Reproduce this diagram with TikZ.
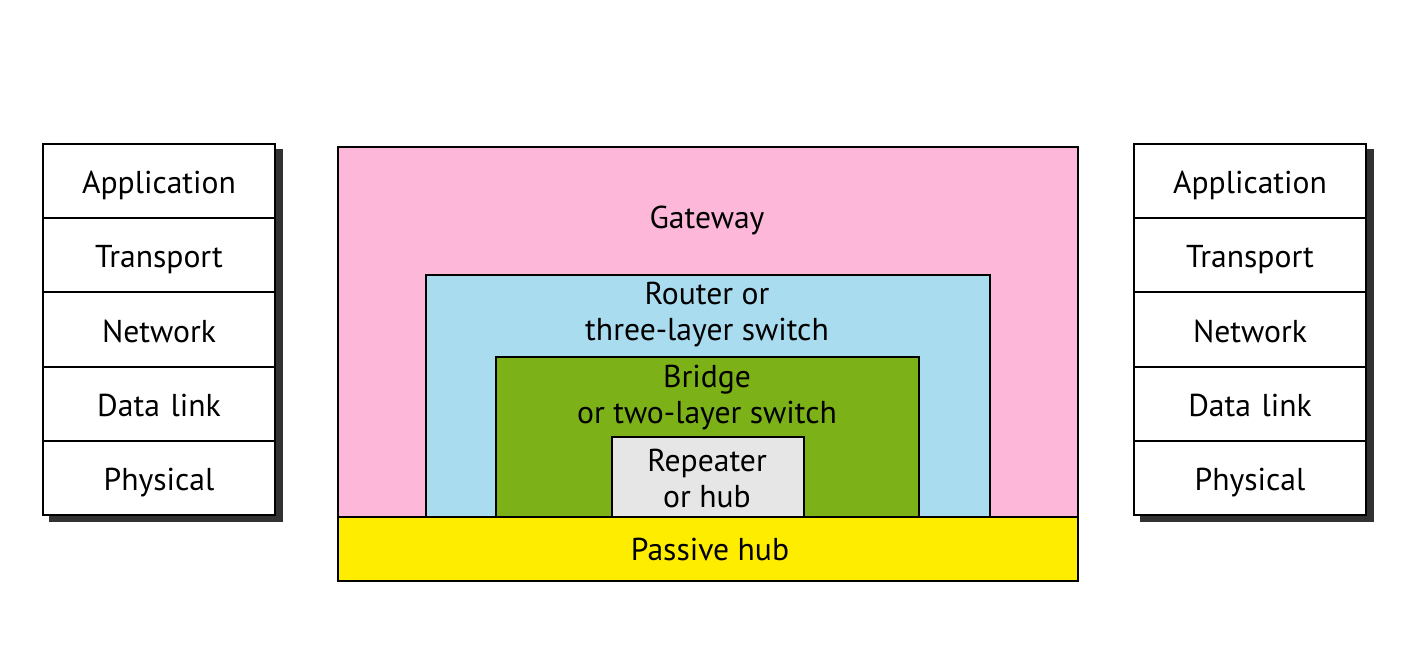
\documentclass[tikz,border=0pt]{standalone}
\usepackage{fontspec}
\setmainfont{PT Sans}
\usetikzlibrary{matrix}
\usetikzlibrary{shadows,positioning}
\definecolor{gatewaypink}{RGB}{253,184,217}
\definecolor{routerblue}{RGB}{170,220,240}
\definecolor{bridgegreen}{RGB}{124,178,24}
\definecolor{repeatergray}{RGB}{230,230,230}
\definecolor{hubyellow}{RGB}{255,237,0}
\definecolor{shadowgray}{RGB}{50,50,50}

\begin{document}
\begin{tikzpicture}

\tikzset{layer stack/.style={
    matrix of nodes,
    column sep=-\pgflinewidth, row sep=-\pgflinewidth,
    inner sep=0pt,
    drop shadow={shadow xshift=0.14cm, shadow yshift=-0.12cm,
      fill=shadowgray, opacity=1},
    nodes={draw, fill=white, line width=1.1pt,
      minimum height=1.484cm,
      anchor=center,
      text width=4.64cm,
      text height=0.62cm,
      text depth=0.12cm,
      align=center,
      inner sep=0pt
    },
  },
  device/.style={draw, line width=1.1pt},
  every node/.style={font=\fontsize{18}{21}\selectfont},
  line width=1.1pt
}

\useasboundingbox (0,0) rectangle (28.24,-13.02);

\matrix[layer stack] (left) at (3.18,-6.59)
{
Application \\
Transport \\
Network \\
Data link \\
Physical \\
};

\matrix[layer stack] (right) at (25.0,-6.59)
{
Application \\
Transport \\
Network \\
Data link \\
Physical \\
};

% nested devices
\draw[device, fill=gatewaypink] (6.76,-2.94) rectangle (21.56,-10.34);
\draw[device, fill=routerblue] (8.52,-5.50) rectangle (19.80,-10.34);
\draw[device, fill=bridgegreen] (9.92,-7.14) rectangle (18.38,-10.34);
\draw[device, fill=repeatergray] (12.24,-8.74) rectangle (16.08,-10.34);
\draw[device, fill=hubyellow] (6.76,-10.34) rectangle (21.56,-11.62);

\node (gateway) at (14.14,-4.40) {Gateway};
\node[align=center] (router) at (14.14,-6.29) {Router or\\three-layer switch};
\node[align=center] (bridge) at (14.14,-7.95) {Bridge\\or two-layer switch};
\node[align=center] (repeater) at (14.14,-9.57) {Repeater\\or hub};
\node (passive) at (14.20,-10.98) {Passive hub};

\end{tikzpicture}
\end{document}
